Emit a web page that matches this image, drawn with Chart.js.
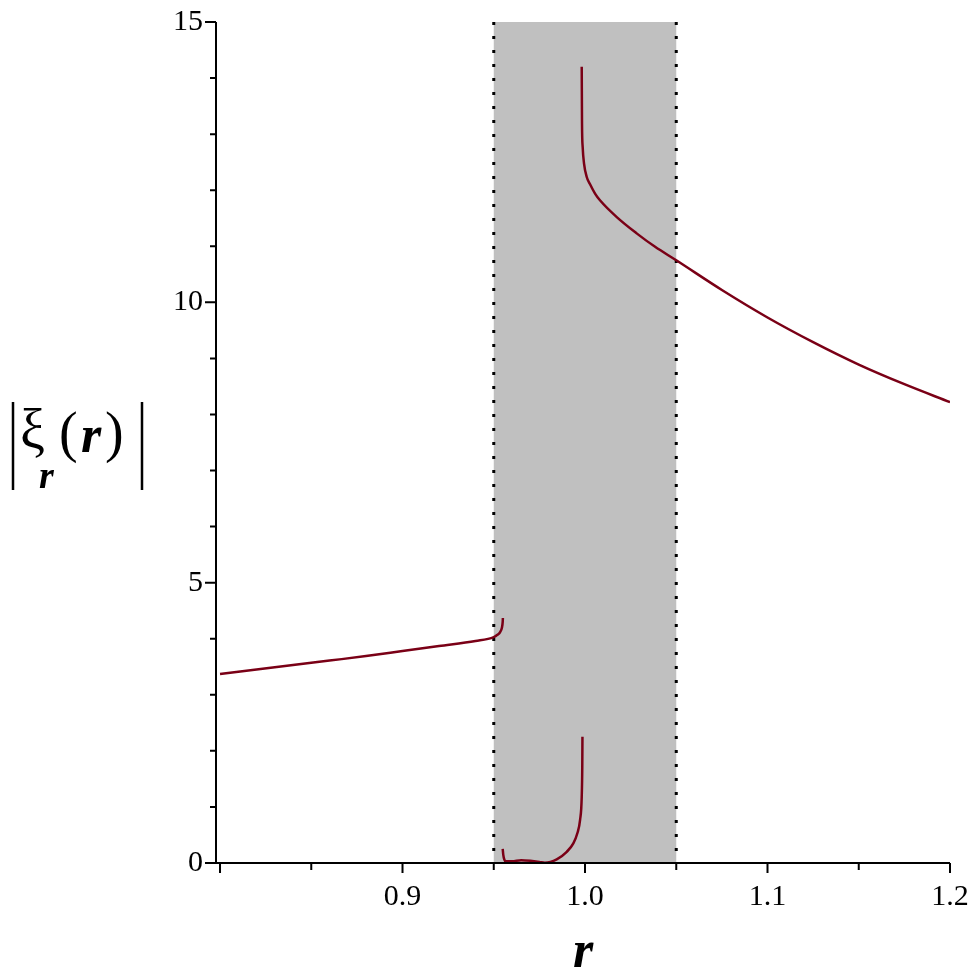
<!DOCTYPE html>
<html>
<head>
<meta charset="utf-8">
<script src="https://cdn.jsdelivr.net/npm/chart.js@4/dist/chart.umd.min.js"></script>
<style>
    html, body { margin: 0; padding: 0; background: #fff; }
    #wrap { width: 976px; height: 980px; }
</style>
</head>
<body>
<div id="wrap"><canvas id="xiChart" width="976" height="980"></canvas></div>
<script>
// Curve data (r, |xi_r(r)|)
const leftR = [0.80, 0.82, 0.84, 0.86, 0.88, 0.90, 0.92, 0.94, 0.950, 0.952, 0.9535, 0.9545, 0.9549, 0.9550];
const leftXi = [3.37, 3.45, 3.53, 3.61, 3.69, 3.78, 3.87, 3.96, 4.03, 4.07, 4.12, 4.20, 4.30, 4.37];

const midR = [0.9549, 0.9552, 0.9558, 0.9565, 0.960, 0.965, 0.970, 0.975, 0.978, 0.9845, 0.990, 0.9936, 0.9958, 0.9973, 0.9982, 0.9985, 0.9986];
const midXi = [0.25, 0.15, 0.06, 0.03, 0.03, 0.05, 0.04, 0.02, 0.005, 0.066, 0.20, 0.35, 0.53, 0.77, 1.18, 1.72, 2.25];

const rightR = [0.9982, 0.99836, 0.99872, 0.99945, 1.0009, 1.0027, 1.0055, 1.0082, 1.0174, 1.0283, 1.0384, 1.05, 1.075, 1.10, 1.125, 1.15, 1.175, 1.2];
const rightXi = [14.20, 13.19, 12.77, 12.48, 12.24, 12.11, 11.94, 11.82, 11.52, 11.23, 10.99, 10.75, 10.22, 9.73, 9.29, 8.89, 8.54, 8.22];

// Shaded interval
const bandStart = 0.95;
const bandEnd = 1.05;

// Axis ticks
const xTickValues = [0.8, 0.9, 1.0, 1.1, 1.2];
const xTickLabels = ['', '0.9', '1.0', '1.1', '1.2'];
const xMinorTicks = [0.85, 0.95, 1.05, 1.15];
const yTickValues = [0, 5, 10, 15];
const yTickLabels = ['0', '5', '10', '15'];
const yMinorTicks = [1, 2, 3, 4, 6, 7, 8, 9, 11, 12, 13, 14];

const curveColor = 'rgb(122, 0, 22)';
const serif = '"Liberation Serif", "Times New Roman", serif';

function toPoints(xs, ys) {
    return xs.map((x, i) => ({ x: x, y: ys[i] }));
}

function curve(xs, ys) {
    return {
        data: toPoints(xs, ys),
        showLine: true,
        borderColor: curveColor,
        borderWidth: 2.5,
        pointRadius: 0,
        cubicInterpolationMode: 'monotone',
        fill: false
    };
}

// Band, dotted edges, axes, tick marks and the y label
const decorations = {
    id: 'decorations',
    beforeDatasetsDraw(chart) {
        const { ctx, chartArea, scales } = chart;
        const x0 = scales.x.getPixelForValue(bandStart);
        const x1 = scales.x.getPixelForValue(bandEnd);
        ctx.save();
        ctx.fillStyle = '#c0c0c0';
        ctx.fillRect(x0, chartArea.top, x1 - x0, chartArea.bottom - chartArea.top);
        ctx.strokeStyle = '#000';
        ctx.lineWidth = 3;
        ctx.setLineDash([3, 11]);
        [x0, x1].forEach(px => {
            ctx.beginPath();
            ctx.moveTo(px, chartArea.top);
            ctx.lineTo(px, chartArea.bottom);
            ctx.stroke();
        });
        ctx.restore();
    },
    afterDraw(chart) {
        const { ctx, chartArea, scales } = chart;
        const left = chartArea.left;
        const bottom = chartArea.bottom;
        ctx.save();
        ctx.strokeStyle = '#000';
        ctx.lineWidth = 2;
        ctx.lineCap = 'butt';

        // axis lines
        ctx.beginPath();
        ctx.moveTo(left, chartArea.top);
        ctx.lineTo(left, bottom);
        ctx.moveTo(left - 11, bottom);
        ctx.lineTo(chartArea.right, bottom);
        ctx.stroke();

        // tick marks
        ctx.beginPath();
        xTickValues.forEach(v => {
            const px = scales.x.getPixelForValue(v);
            ctx.moveTo(px, bottom);
            ctx.lineTo(px, bottom + 10);
        });
        xMinorTicks.forEach(v => {
            const px = scales.x.getPixelForValue(v);
            ctx.moveTo(px, bottom);
            ctx.lineTo(px, bottom + 7);
        });
        yTickValues.forEach(v => {
            const py = scales.y.getPixelForValue(v);
            ctx.moveTo(left - 11, py);
            ctx.lineTo(left, py);
        });
        yMinorTicks.forEach(v => {
            const py = scales.y.getPixelForValue(v);
            ctx.moveTo(left - 6, py);
            ctx.lineTo(left, py);
        });
        ctx.stroke();

        // y label |xi_r(r)|
        ctx.lineWidth = 2.5;
        ctx.beginPath();
        ctx.moveTo(13, 402);
        ctx.lineTo(13, 490);
        ctx.moveTo(142, 402);
        ctx.lineTo(142, 490);
        ctx.stroke();

        ctx.fillStyle = '#000';
        ctx.textAlign = 'left';
        ctx.textBaseline = 'alphabetic';
        ctx.font = '56px ' + serif;
        ctx.fillText('\u03BE', 20, 448);
        ctx.fillText('(', 59, 451);
        ctx.fillText(')', 105, 451);
        ctx.font = 'italic bold 52px ' + serif;
        ctx.fillText('r', 81, 452);
        ctx.font = 'italic bold 38px ' + serif;
        ctx.fillText('r', 39, 488);
        ctx.restore();
    }
};

document.addEventListener('DOMContentLoaded', function() {
    const canvas = document.getElementById('xiChart');
    const ctx = canvas.getContext('2d');
    new Chart(ctx, {
        type: 'scatter',
        data: {
            datasets: [
                curve(leftR, leftXi),
                curve(midR, midXi),
                curve(rightR, rightXi)
            ]
        },
        options: {
            responsive: false,
            animation: false,
            layout: {
                padding: { top: 22, right: 26, left: 0, bottom: 0 }
            },
            plugins: {
                legend: { display: false },
                tooltip: { enabled: false }
            },
            scales: {
                x: {
                    type: 'linear',
                    min: 0.7978,
                    max: 1.2,
                    grid: { display: false, drawTicks: false },
                    border: { display: false },
                    afterBuildTicks: scale => {
                        scale.ticks = xTickValues.map(v => ({ value: v }));
                    },
                    afterFit: scale => {
                        scale.height = 117;
                        scale.paddingLeft = 0;
                        scale.paddingRight = 0;
                    },
                    ticks: {
                        autoSkip: false,
                        maxRotation: 0,
                        padding: 16,
                        color: '#000',
                        font: { family: serif, size: 30 },
                        callback: function(value, index) {
                            return xTickLabels[index];
                        }
                    },
                    title: {
                        display: true,
                        text: 'r',
                        color: '#000',
                        padding: 0,
                        font: { family: serif, size: 52, style: 'italic', weight: 'bold', lineHeight: 1 }
                    }
                },
                y: {
                    type: 'linear',
                    min: 0,
                    max: 15,
                    grid: { display: false, drawTicks: false },
                    border: { display: false },
                    afterBuildTicks: scale => {
                        scale.ticks = yTickValues.map(v => ({ value: v }));
                    },
                    afterFit: scale => {
                        scale.width = 216;
                        scale.paddingTop = 0;
                        scale.paddingBottom = 0;
                    },
                    ticks: {
                        autoSkip: false,
                        padding: 13,
                        color: '#000',
                        font: { family: serif, size: 30 },
                        callback: function(value, index) {
                            return yTickLabels[index];
                        }
                    }
                }
            }
        },
        plugins: [decorations]
    });
});
</script>
</body>
</html>
